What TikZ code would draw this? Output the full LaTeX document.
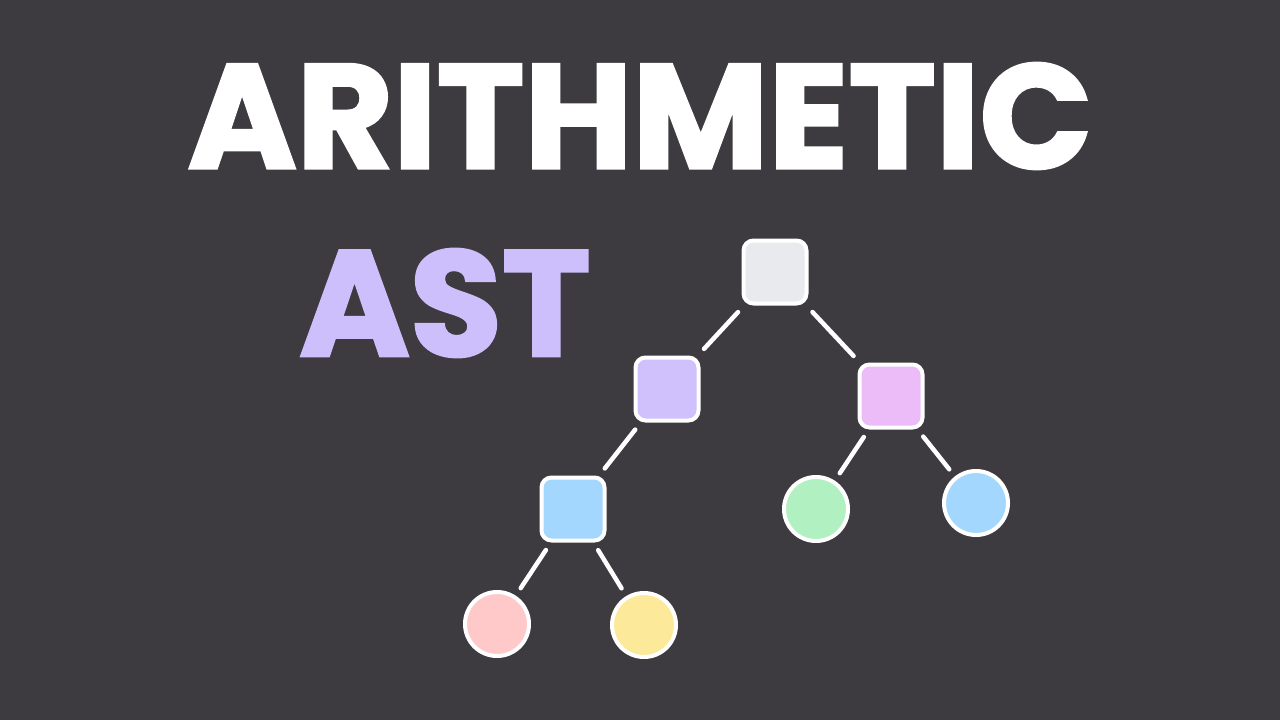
\documentclass[tikz,border=0pt]{standalone}
\usepackage{fontspec}
\setmainfont{Poppins}[BoldFeatures={FakeBold=2}]
\definecolor{bg}{HTML}{3D3B40}
\definecolor{lav}{HTML}{CDBFFC}
\definecolor{rootc}{HTML}{E8EAED}
\definecolor{purp}{HTML}{D0C0FB}
\definecolor{viol}{HTML}{EBBCF8}
\definecolor{skyb}{HTML}{A3D7FD}
\definecolor{mint}{HTML}{B1F0C1}
\definecolor{rose}{HTML}{FFC9CA}
\definecolor{sun}{HTML}{FDE99A}
\begin{document}
\begin{tikzpicture}[x=1pt,y=-1pt,
  sq/.style={draw=white,line width=4pt,rounded corners=10pt,minimum size=63pt,inner sep=0pt},
  circ/.style={circle,draw=white,line width=4pt,minimum size=64pt,inner sep=0pt},
  edge/.style={white,line width=4.5pt,line cap=round,shorten <=9pt,shorten >=9pt}]
\fill[bg] (0,0) rectangle (1280,720);
\useasboundingbox (0,0) rectangle (1280,720);
\node[text=white,font=\fontsize{148}{148}\selectfont\bfseries] (title) at (640,116) {ARITHMETIC};
\node[text=lav,font=\fontsize{150}{150}\selectfont\bfseries] (ast) at (445,303) {AST};
\node[sq,fill=rootc] (root) at (775,272) {};
\node[sq,fill=purp] (l1) at (667,389) {};
\node[sq,fill=viol] (r1) at (891,396) {};
\node[sq,fill=skyb] (l2) at (573,509) {};
\node[circ,fill=mint] (g) at (816,509) {};
\node[circ,fill=skyb] (bc) at (976,503) {};
\node[circ,fill=rose] (p) at (497,624) {};
\node[circ,fill=sun] (y) at (644,625) {};
\draw[edge] (root) -- (l1);
\draw[edge] (root) -- (r1);
\draw[edge] (l1) -- (l2);
\draw[edge] (r1) -- (g);
\draw[edge] (r1) -- (bc);
\draw[edge] (l2) -- (p);
\draw[edge] (l2) -- (y);
\end{tikzpicture}
\end{document}
